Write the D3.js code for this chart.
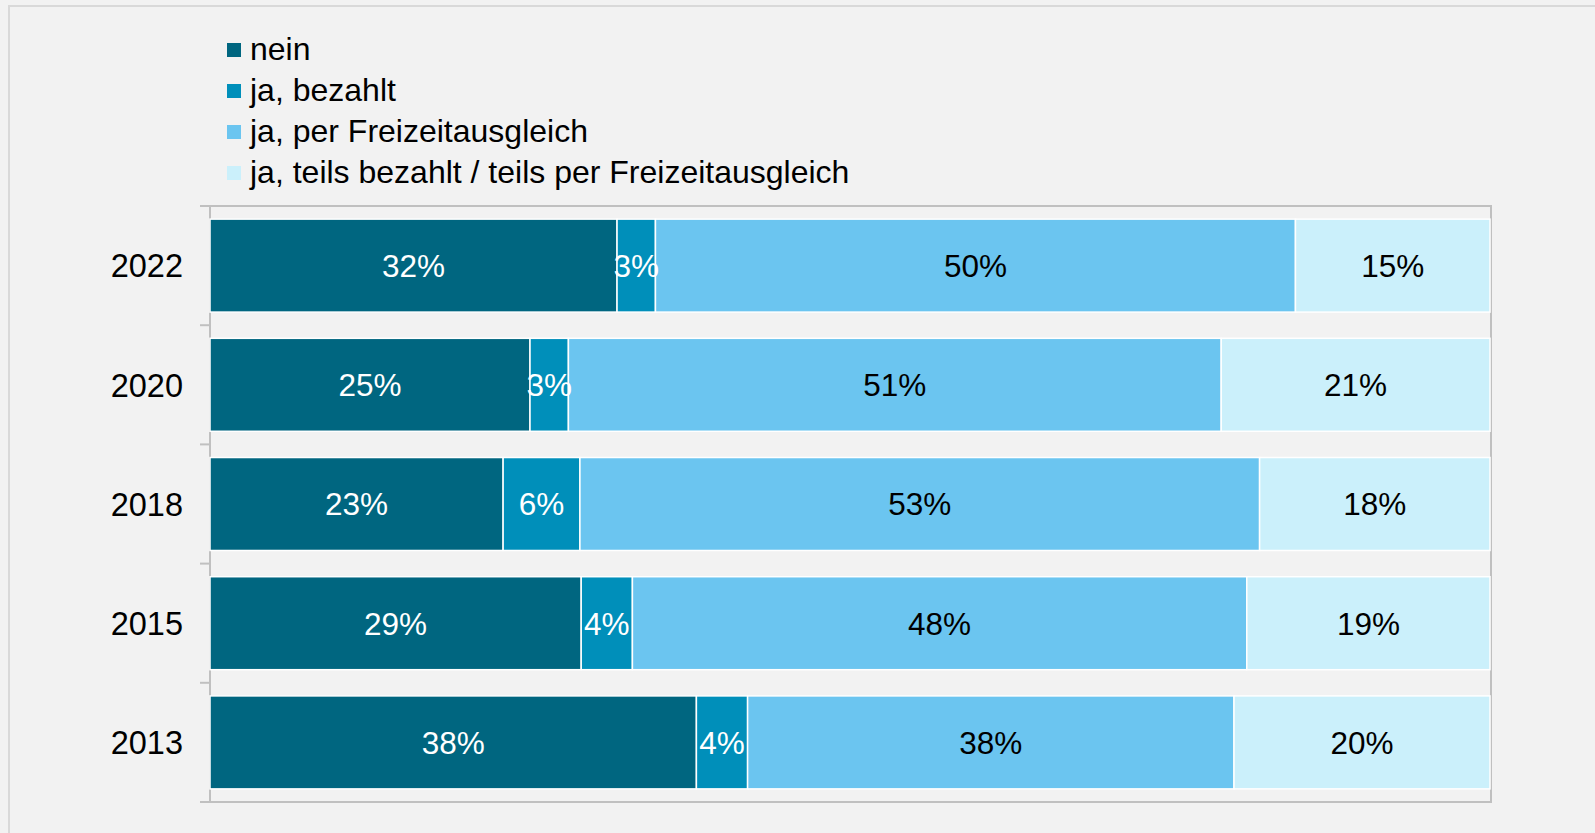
<!DOCTYPE html>
<html>
<head>
<meta charset="utf-8">
<script src="https://cdn.jsdelivr.net/npm/d3@7"></script>
<style>
  html, body { margin: 0; padding: 0; background: #f2f2f2; }
  svg { display: block; font-family: "Liberation Sans", Arial, sans-serif; }
</style>
</head>
<body>
<div id="chart"></div>
<script>
const years = ["2022", "2020", "2018", "2015", "2013"];
const series = ["nein", "ja, bezahlt", "ja, per Freizeitausgleich", "ja, teils bezahlt / teils per Freizeitausgleich"];
const nein = [31.8, 25.0, 22.9, 29.0, 38.0];
const bezahlt = [3.0, 3.0, 6.0, 4.0, 4.0];
const freizeit = [50.0, 51.0, 53.1, 48.0, 38.0];
const teils = [15.2, 21.0, 18.0, 19.0, 20.0];
const colors = ["#006680", "#008fba", "#6bc5f0", "#cbf0fb"];
const labelColors = ["#fff", "#fff", "#000", "#000"];

const W = 1595, H = 833;
const margin = { top: 206, right: 105, bottom: 31, left: 210 };

// build rows for the stack
const table = years.map((y, i) => ({
  year: y,
  s0: nein[i], s1: bezahlt[i], s2: freizeit[i], s3: teils[i]
}));
const stacked = d3.stack().keys(["s0", "s1", "s2", "s3"])(table);

const svg = d3.select("#chart").append("svg")
  .attr("width", W)
  .attr("height", H);

// outer frame
svg.append("rect")
  .attr("x", 9).attr("y", 6)
  .attr("width", W).attr("height", H)
  .attr("fill", "#f2f2f2")
  .attr("stroke", "#d9d9d9")
  .attr("stroke-width", 2);

const x = d3.scaleLinear().domain([0, 100]).range([margin.left, W - margin.right]);
const y = d3.scaleBand()
  .domain(years)
  .range([margin.top, H - margin.bottom])
  .paddingInner(0.22)
  .paddingOuter(0.11);

const gridColor = "#c0c0c0";
const x0 = x.range()[0], x1 = x.range()[1];
const yTop = y.range()[0], yBot = y.range()[1];

// plot frame
const frame = svg.append("g");
frame.append("rect")
  .attr("x", x0).attr("y", yTop)
  .attr("width", x1 - x0 + 1).attr("height", yBot - yTop)
  .attr("fill", "none")
  .attr("stroke", gridColor)
  .attr("stroke-width", 2);

// ticks on the category boundaries
const bounds = d3.range(years.length + 1).map(i => yTop + i * y.step());
frame.selectAll(".tick-l").data(bounds).enter().append("line")
  .attr("x1", x0 - 10).attr("x2", x0)
  .attr("y1", d => d).attr("y2", d => d)
  .attr("stroke", gridColor).attr("stroke-width", 2);

// year labels
const yAxis = svg.append("g")
  .attr("transform", "translate(" + (x0 - 27) + ",0)")
  .call(d3.axisLeft(y).tickSize(0).tickPadding(0));
yAxis.select(".domain").remove();
yAxis.selectAll("text")
  .attr("font-size", 32.5)
  .attr("font-family", "Liberation Sans, Arial, sans-serif")
  .attr("fill", "#000")
  .attr("dy", "0.36em");

// bars
const layers = svg.selectAll(".layer").data(stacked).enter().append("g")
  .attr("fill", (d, i) => colors[i]);

layers.selectAll("rect").data(d => d).enter().append("rect")
  .attr("x", d => x(d[0]))
  .attr("width", d => x(d[1]) - x(d[0]))
  .attr("y", d => y(d.data.year))
  .attr("height", y.bandwidth())
  .attr("stroke", "#fff")
  .attr("stroke-width", 1.5);

// value labels
stacked.forEach((layer, li) => {
  svg.append("g").selectAll("text").data(layer).enter().append("text")
    .attr("x", d => (x(d[0]) + x(d[1])) / 2)
    .attr("y", d => y(d.data.year) + y.bandwidth() / 2)
    .attr("dy", "0.36em")
    .attr("text-anchor", "middle")
    .attr("font-size", 31.5)
    .attr("fill", labelColors[li])
    .text(d => Math.round(d[1] - d[0]) + "%");
});

// legend
const legend = svg.append("g").attr("transform", "translate(227,60)");
const item = legend.selectAll("g").data(series).enter().append("g")
  .attr("transform", (d, i) => "translate(0," + i * 41 + ")");
item.append("rect")
  .attr("x", 0).attr("y", -17)
  .attr("width", 14).attr("height", 14)
  .attr("fill", (d, i) => colors[i]);
item.append("text")
  .attr("x", 23).attr("y", 0)
  .attr("font-size", 32)
  .attr("fill", "#000")
  .text(d => d);
</script>
</body>
</html>
